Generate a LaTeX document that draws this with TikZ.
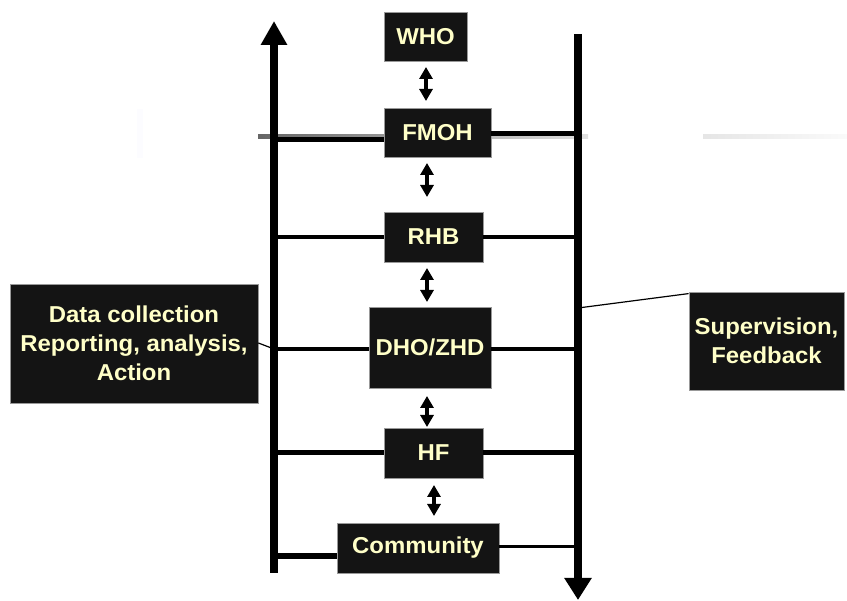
\documentclass[tikz,border=0pt]{standalone}
\usepackage{fontspec}
\setmainfont{Liberation Sans}[FakeStretch=1.04]
\usetikzlibrary{arrows.meta}
\definecolor{boxfill}{RGB}{20,20,20}
\definecolor{boxtext}{RGB}{255,255,200}
\begin{document}
\begin{tikzpicture}[x=1pt,y=-1pt,
  lvl/.style={draw=black!40, line width=0.8pt, fill=boxfill, text=boxtext,
    font=\fontsize{23}{29}\selectfont\bfseries, inner sep=0pt, align=center},
  axisline/.style={line width=8pt},
  rung/.style={line width=4.5pt},
  link/.style={line width=4pt, {Triangle[width=13pt,length=12pt]}-{Triangle[width=13pt,length=12pt]}},
  thinlink/.style={line width=1.2pt}]
\useasboundingbox (0,0) rectangle (847,601);

% faint background artefacts
\fill[blue!1] (137,109) rectangle (143,158);
\shade[left color=black!60, right color=black!12] (258,135) rectangle (588,139);
\shade[left color=black!10, right color=black!2] (703,135) rectangle (847,139);

% axis coordinates
\coordinate (lb) at (274,573);
\coordinate (lt) at (274,21);
\coordinate (rt) at (578,34);
\coordinate (rb) at (578,600);

% rung anchors on axes
\coordinate (L1) at (274,140);   \coordinate (R1) at (578,133.5);
\coordinate (L2) at (274,237);   \coordinate (R2) at (578,237);
\coordinate (L3) at (274,349);   \coordinate (R3) at (578,349);
\coordinate (L4) at (274,452.5); \coordinate (R4) at (578,452.5);
\coordinate (L5) at (274,556);   \coordinate (R5) at (578,547);
\coordinate (RS) at (578,308);

% boxes
\node[lvl, minimum width=83pt, minimum height=49pt] (who) at (425.5,36.5) {WHO};
\node[lvl, minimum width=107pt, minimum height=49pt] (fmoh) at (437.5,132.5) {FMOH};
\node[lvl, minimum width=99pt, minimum height=50pt] (rhb) at (433.5,237) {RHB};
\node[lvl, minimum width=122pt, minimum height=81pt] (dho) at (430,347.5) {DHO/ZHD};
\node[lvl, minimum width=99pt, minimum height=50pt] (hf) at (433.5,453) {HF};
\node[lvl, minimum width=162pt, minimum height=50pt] (com) at (418,548) {Community};
\node[lvl, minimum width=248pt, minimum height=119pt] (data) at (134,343.5) {Data collection\\Reporting, analysis,\\Action};
\node[lvl, minimum width=155pt, minimum height=98pt] (sup) at (766.5,341) {Supervision,\\Feedback};

% rungs
\draw[rung, line width=5pt] (L1) -- (L1 -| fmoh.west);
\draw[rung, line width=5pt] (R1) -- (R1 -| fmoh.east);
\draw[rung] (L2) -- (L2 -| rhb.west);
\draw[rung] (R2) -- (R2 -| rhb.east);
\draw[rung] (L3) -- (L3 -| dho.west);
\draw[rung] (R3) -- (R3 -| dho.east);
\draw[rung] (L4) -- (L4 -| hf.west);
\draw[rung] (R4) -- (R4 -| hf.east);
\draw[rung, line width=6.5pt] (L5) -- (L5 -| com.west);
\draw[rung, line width=3pt] (R5) -- (R5 -| com.east);

% axes
\draw[axisline, -{Triangle[width=25pt,length=24pt]}] (lb) -- (lt);
\draw[axisline, -{Triangle[width=26pt,length=22pt]}] (rt) -- (rb);

% side connectors
\draw[thinlink] ([yshift=0.5pt]data.east) -- (L3);
\draw[thinlink] (RS) -- ([yshift=-2pt]sup.north west);

% double arrows between levels
\coordinate (u1) at (426,67);  \coordinate (d1) at (426,101);
\coordinate (u2) at (427,163); \coordinate (d2) at (427,197);
\coordinate (u3) at (427,268); \coordinate (d3) at (427,302);
\coordinate (u4) at (427,396); \coordinate (d4) at (427,427);
\coordinate (u5) at (434,485); \coordinate (d5) at (434,516);
\draw[link] (u1) -- (d1);
\draw[link] (u2) -- (d2);
\draw[link] (u3) -- (d3);
\draw[link] (u4) -- (d4);
\draw[link] (u5) -- (d5);
\end{tikzpicture}
\end{document}
